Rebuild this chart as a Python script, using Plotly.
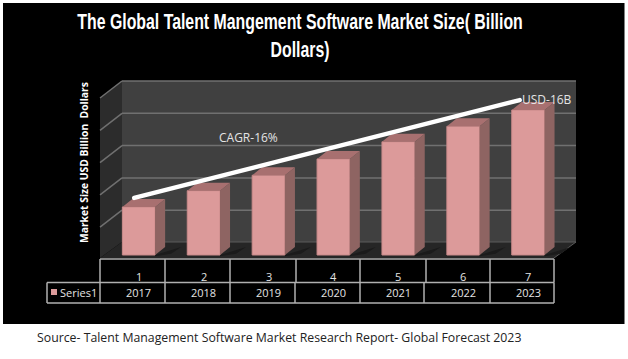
import plotly.graph_objects as go

W, H = 628, 359
years = ["2017", "2018", "2019", "2020", "2021", "2022", "2023"]
index_labels = ["1", "2", "3", "4", "5", "6", "7"]
values = [5.3, 7.1, 8.8, 10.6, 12.5, 14.2, 16.0]
trend_x = [-0.07, 5.87]
trend_y = [6.3, 17.1]
title_lines = "The Global Talent Mangement Software Market Size( Billion<br>Dollars)"
y_title = "Market Size USD Billion  Dollars"
source = "Source- Talent Management Software Market Research Report- Global Forecast 2023"
series_name = "Series1"

PX_X, PX_Y = 64.9, 9.06
X0, Y0 = 138.75, 255.0
x_range = [(0 - X0) / PX_X, (W - X0) / PX_X]
y_range = [(Y0 - H) / PX_Y, Y0 / PX_Y]
BAR_W = 0.505
DX, DY = 10 / PX_X, 8 / PX_Y

PINK, SIDE, TOP = "#DC9A9A", "#8E6462", "#A87070"
TXT = "#E4E4E4"


def px(x):
    return x / W


def py(y):
    return 1 - y / H


def poly(pts, fill, layer="below"):
    path = "M " + " L ".join(f"{px(x):.5f},{py(y):.5f}" for x, y in pts) + " Z"
    return dict(type="path", xref="paper", yref="paper", path=path,
                fillcolor=fill, line=dict(width=0), layer=layer)


def seg(x0, y0, x1, y1, color, width=1.5):
    return dict(type="line", xref="paper", yref="paper", x0=px(x0), y0=py(y0),
                x1=px(x1), y1=py(y1), line=dict(color=color, width=width), layer="below")


shapes = [poly([(3, 3), (624.5, 3), (624.5, 324), (3, 324)], "#000000")]
shapes += [
    poly([(122, 81), (576, 81), (576, 242), (122, 242)], "#404040"),
    poly([(100, 98), (122, 81), (122, 242), (100, 258)], "#2C2C2C"),
    poly([(100, 258), (122, 242), (576, 242), (554, 258)], "#262626"),
]
for gy in [81, 113.3, 145.6, 177.9, 210.2]:
    shapes.append(seg(122, gy, 576, gy, "#707070"))
    shapes.append(seg(100, gy + 17, 122, gy, "#707070"))
shapes.append(seg(122, 242, 576, 242, "#5a5a5a", 1))
shapes.append(seg(554, 258, 576, 242, "#5a5a5a", 1))

# data table
LINE = "#B0B0B0"
table_top = [100, 165, 230, 296, 360, 426, 490, 554]
table_bot = [100, 165, 230, 295, 360, 424, 490, 554]
for x in table_top:
    shapes.append(seg(x, 259, x, 282.5, LINE))
for x in table_bot:
    shapes.append(seg(x, 282.5, x, 303, LINE))
shapes.append(seg(100, 259, 554, 259, LINE))
shapes.append(seg(47, 282.5, 554, 282.5, LINE))
shapes.append(seg(47, 303, 554, 303, LINE))
shapes.append(seg(47, 282.5, 47, 303, LINE))
shapes.append(poly([(51, 289), (57, 289), (57, 295), (51, 295)], PINK, "above"))

sx, sy, tx, ty, hx, hy = [], [], [], [], [], []
for i, v in enumerate(values):
    r = i + BAR_W / 2
    l = i - BAR_W / 2
    sx += [r, r + DX, r + DX, r, r, None]
    sy += [0, DY, v + DY, v, 0, None]
    tx += [l, r, r + DX, l + DX, l, None]
    ty += [v, v, v + DY, v + DY, v, None]
    hx += [r, r + 2.6 * DX, r + 1.6 * DX, r, None]
    hy += [0, DY, 0.15 * DY, -0.15 * DY, None]

fig = go.Figure()
fig.add_trace(go.Scatter(x=hx, y=hy, mode="lines", fill="toself", fillcolor="#1B1B1B", line=dict(width=0), hoverinfo="skip"))
fig.add_trace(go.Bar(x=list(range(7)), y=values, width=BAR_W, marker=dict(color=PINK, line=dict(color="#C98A8A", width=1)),
                     hoverinfo="skip", name=series_name))
fig.add_trace(go.Scatter(x=sx, y=sy, mode="lines", fill="toself", fillcolor=SIDE, line=dict(width=0), hoverinfo="skip"))
fig.add_trace(go.Scatter(x=tx, y=ty, mode="lines", fill="toself", fillcolor=TOP, line=dict(width=0), hoverinfo="skip"))
fig.add_trace(go.Scatter(x=trend_x, y=trend_y, mode="lines", line=dict(color="#FFFFFF", width=4.5), hoverinfo="skip"))

ann = []


def text(x, y, s, size, font="Open Sans", color=TXT, **kw):
    ann.append(dict(xref="paper", yref="paper", x=px(x), y=py(y), text=s, showarrow=False,
                    font=dict(family=font, size=size, color=color), xanchor="center", yanchor="middle", **kw))


text(300, 36, f"<b>{title_lines}</b>", 21.5, "Liberation Sans", "#FFFFFF")
text(84, 163, f"<b>{y_title}</b>", 10.3, "Open Sans", "#FFFFFF", textangle=-90)
text(248, 137, "CAGR-16%", 12)
text(547, 99, "USD-16B", 12)
text(279, 337, source, 12.3, "Open Sans", "#222222")
text(78, 292, series_name, 11)
for i in range(7):
    for lab, yy in ((index_labels[i], 276), (years[i], 292.5)):
        ann.append(dict(xref="x", yref="paper", x=i, y=py(yy), text=lab, showarrow=False,
                        xanchor="center", yanchor="middle",
                        font=dict(family="Open Sans", size=11, color=TXT)))

fig.update_layout(
    width=W, height=H, margin=dict(l=0, r=0, t=0, b=0), autosize=False,
    paper_bgcolor="#FFFFFF", plot_bgcolor="rgba(0,0,0,0)", showlegend=False,
    xaxis=dict(range=x_range, visible=False, fixedrange=True),
    yaxis=dict(range=y_range, visible=False, fixedrange=True),
    shapes=shapes, annotations=ann,
)
# The title font is a condensed face that is not installed: narrow the real text to its width.
squeeze = """
document.body.style.margin='0';
document.querySelectorAll('.annotation-text').forEach(function(t){
  if ((t.textContent||'').indexOf('Global Talent') < 0) return;
  var b = t.getBBox(), cx = b.x + b.width/2, s = 446/b.width;
  var old = t.getAttribute('transform') || '';
  t.setAttribute('transform', 'translate('+cx+',0) scale('+s+',1) translate('+(-cx)+',0) '+old);
});
document.querySelectorAll('.scatterlayer .js-line').forEach(function(p){ p.style.strokeLinecap='round'; });
"""
fig.write_html("out.html", config=dict(displayModeBar=False), post_script=squeeze)
